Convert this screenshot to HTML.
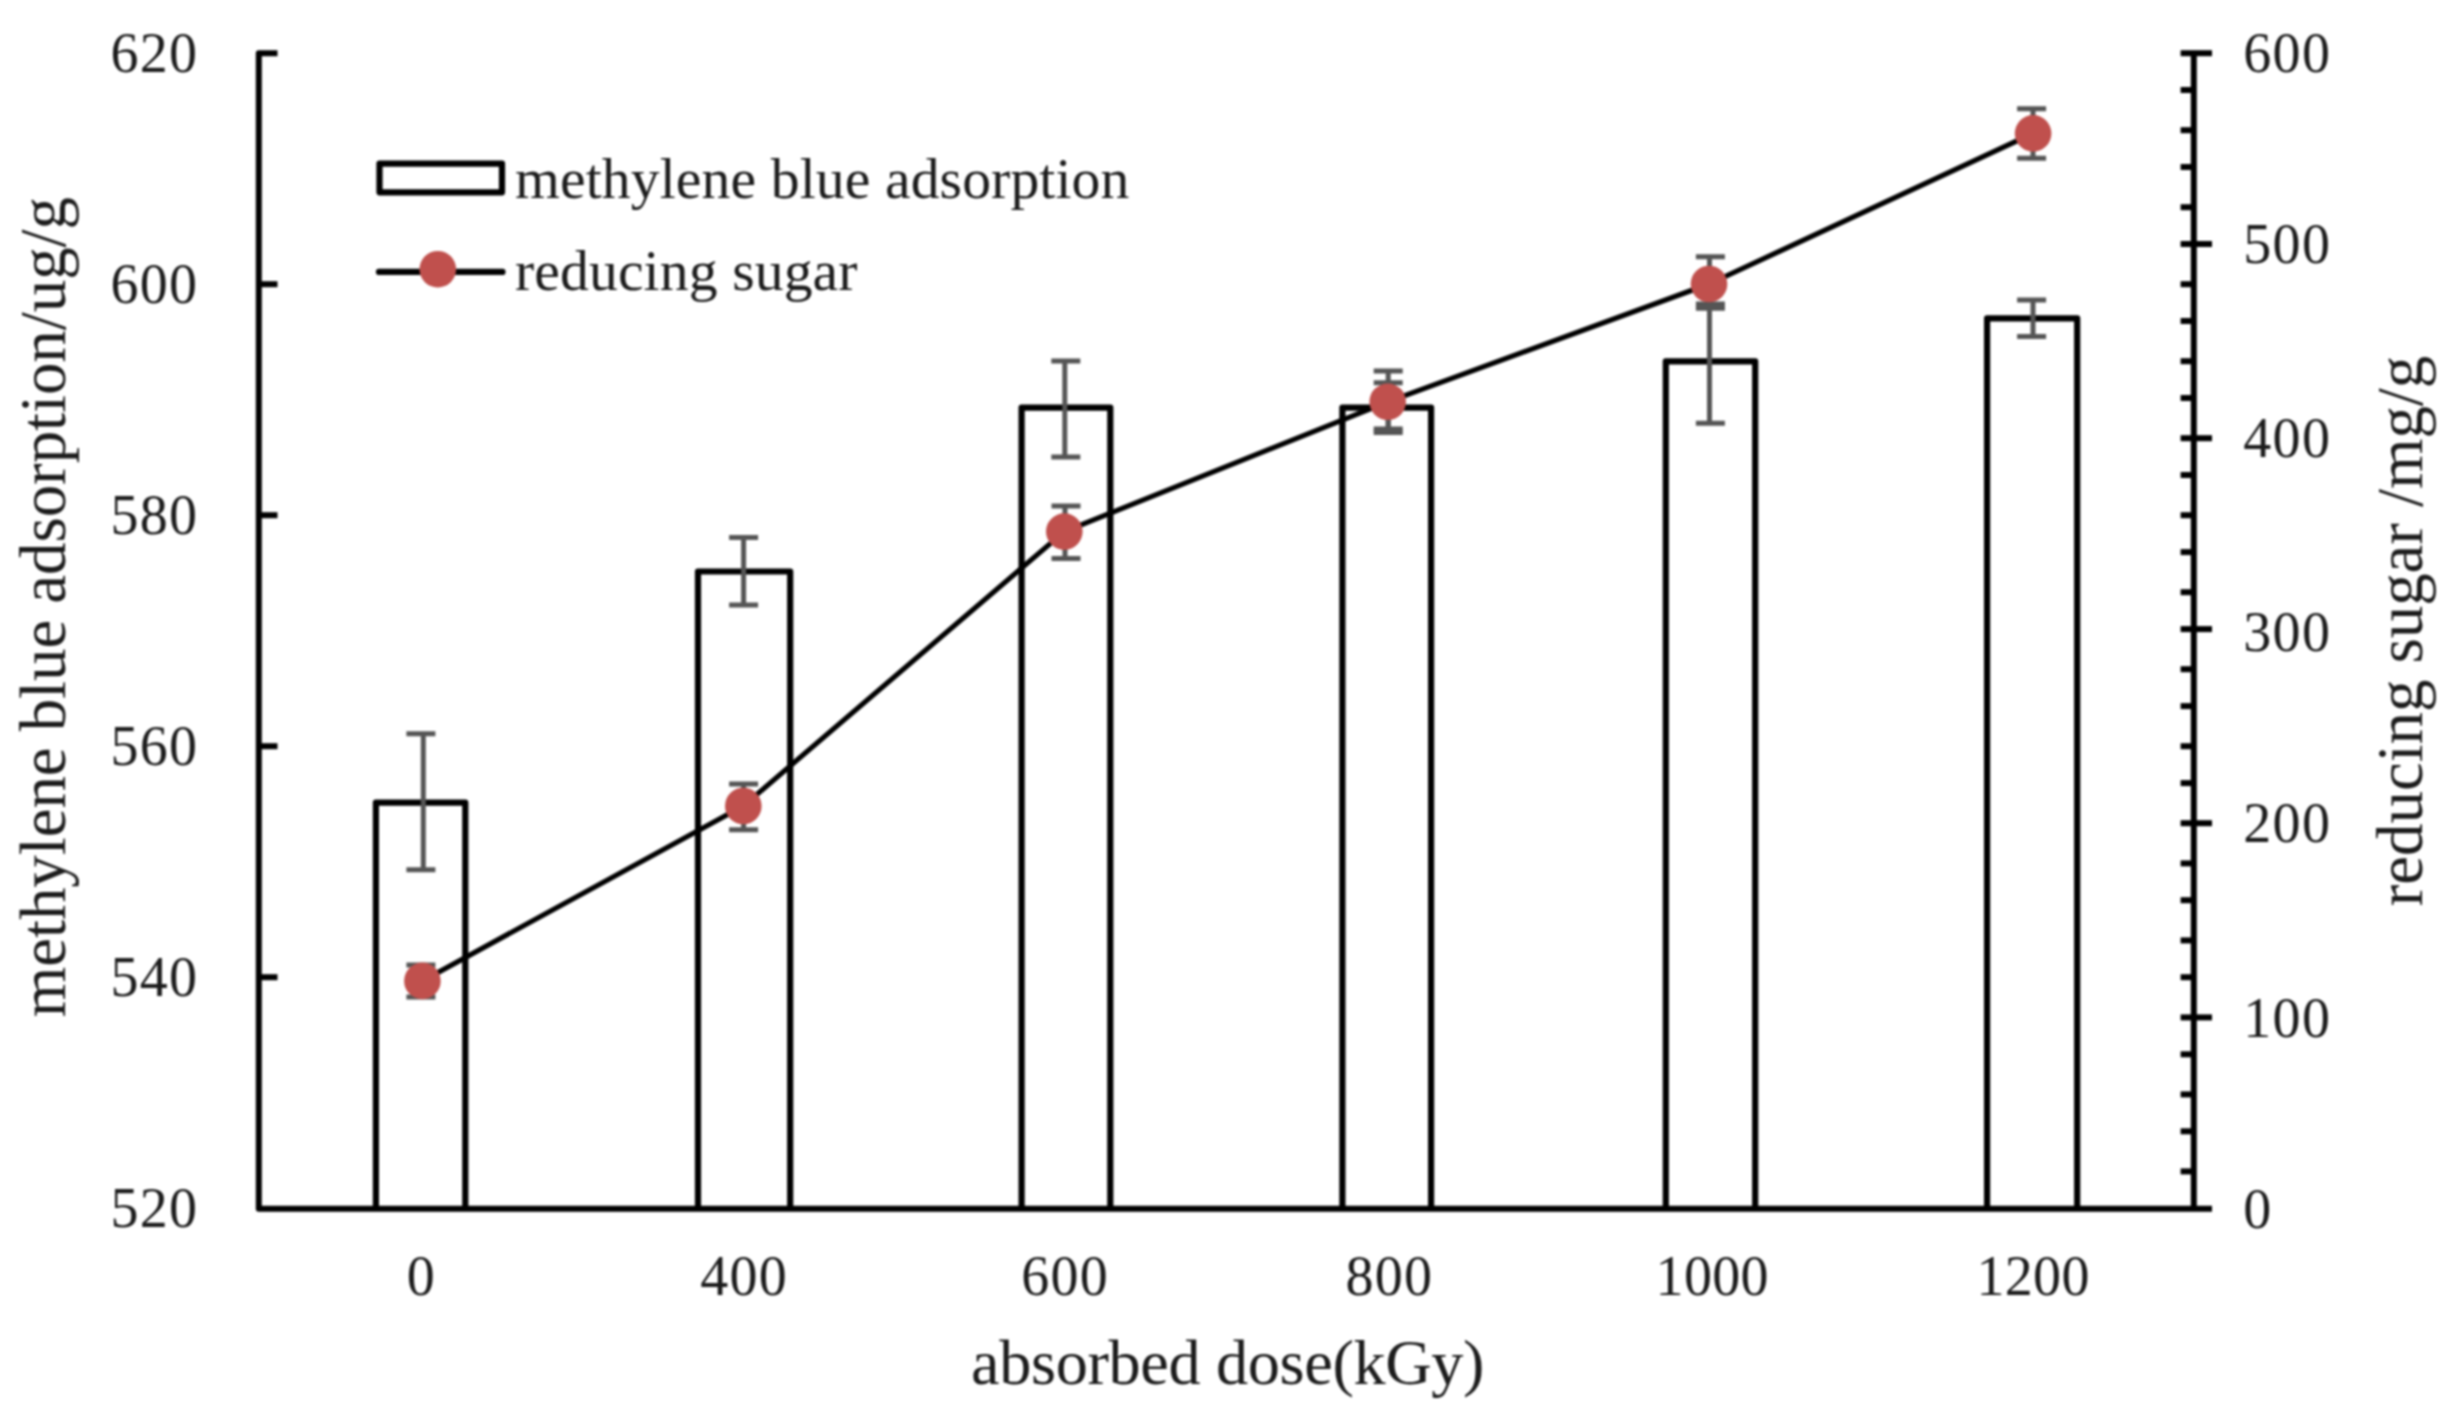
<!DOCTYPE html>
<html lang="en"><head><meta charset="utf-8"><title>methylene blue adsorption and reducing sugar vs absorbed dose</title>
<style>
html,body{margin:0;padding:0;background:#fff;}
body{width:2451px;height:1416px;overflow:hidden;}
svg{display:block;filter:blur(0.8px);}
text{font-family:"Liberation Serif","Times New Roman",serif;fill:#1c1c1c;}
.tk{font-size:56.0px;letter-spacing:1.3px;}
.lg{font-size:57.7px;letter-spacing:0.1px;}
.tt{font-size:65px;letter-spacing:-0.1px;}
.tx{font-size:64.3px;letter-spacing:-0.36px;}
.t4{font-size:56.0px;letter-spacing:0.3px;}
</style></head><body>
<svg width="2451" height="1416" viewBox="0 0 2451 1416">
<rect width="2451" height="1416" fill="#ffffff"/>
<g fill="#fff" stroke="#000" stroke-width="6.2" stroke-linejoin="round">
<path d="M375.9 1208.3V802.6H465.3V1208.3"/>
<path d="M698.0 1208.3V571.5H790.2V1208.3"/>
<path d="M1021.6 1208.3V407.6H1110.3V1208.3"/>
<path d="M1342.4 1208.3V407.6H1431.1V1208.3"/>
<path d="M1665.8 1208.3V361.3H1755.2V1208.3"/>
<path d="M1987.1 1208.3V318.3H2077.2V1208.3"/>
</g>
<g>
<path d="M423.3 733.8V869.7M406.4 733.8H435.4M406.4 869.7H435.4" stroke="#555555" stroke-width="5.0" fill="none"/>
<path d="M743.6 537.5V605.1M729.1 537.5H758.1M729.1 605.1H758.1" stroke="#555555" stroke-width="5.0" fill="none"/>
<path d="M1064.8 361V457M1051.3 361H1080.3M1051.3 457H1080.3" stroke="#555555" stroke-width="5.0" fill="none"/>
<path d="M1388.2 382.7V429.0M1373.7 382.7H1402.7M1373.7 429.0H1402.7" stroke="#555555" stroke-width="5.0" fill="none"/>
<path d="M1709.5 303.9V423.2M1695.9 303.9H1724.9M1695.9 423.2H1724.9" stroke="#555555" stroke-width="5.0" fill="none"/>
<path d="M2033 300V336.5M2017.1 300H2046.1M2017.1 336.5H2046.1" stroke="#555555" stroke-width="5.0" fill="none"/>
</g>
<g stroke="#000" stroke-width="6.0" fill="none" stroke-linejoin="round">
<path d="M277.5 53.2H258.8V1208.8H2212"/>
<path d="M2193.8 53.2V1208.3"/>
<path d="M258.8 284.2H277.5"/>
<path d="M258.8 515.2H277.5"/>
<path d="M258.8 746.2H277.5"/>
<path d="M258.8 977.2H277.5"/>
<path d="M2180.6 53.2H2212"/>
<path d="M2180.6 90.0H2193.8"/>
<path d="M2180.6 130.2H2193.8"/>
<path d="M2180.6 167.0H2193.8"/>
<path d="M2180.6 207.2H2193.8"/>
<path d="M2180.6 244.0H2212"/>
<path d="M2180.6 284.2H2193.8"/>
<path d="M2180.6 321.0H2193.8"/>
<path d="M2180.6 361.2H2193.8"/>
<path d="M2180.6 398.0H2193.8"/>
<path d="M2180.6 438.2H2212"/>
<path d="M2180.6 475.0H2193.8"/>
<path d="M2180.6 515.2H2193.8"/>
<path d="M2180.6 552.1H2193.8"/>
<path d="M2180.6 592.2H2193.8"/>
<path d="M2180.6 629.1H2212"/>
<path d="M2180.6 669.2H2193.8"/>
<path d="M2180.6 706.1H2193.8"/>
<path d="M2180.6 746.2H2193.8"/>
<path d="M2180.6 783.1H2193.8"/>
<path d="M2180.6 823.2H2212"/>
<path d="M2180.6 863.4H2193.8"/>
<path d="M2180.6 900.2H2193.8"/>
<path d="M2180.6 940.4H2193.8"/>
<path d="M2180.6 977.2H2193.8"/>
<path d="M2180.6 1017.4H2212"/>
<path d="M2180.6 1054.3H2193.8"/>
<path d="M2180.6 1094.4H2193.8"/>
<path d="M2180.6 1131.3H2193.8"/>
<path d="M2180.6 1171.4H2193.8"/>
</g>
<path d="M422.4 980.9 L743.3 806 L1064.3 531.6 L1387.7 401.8 L1709 284 L2033.1 133.4" stroke="#000" stroke-width="5.1" fill="none" stroke-linejoin="round" stroke-linecap="round"/>
<g>
<path d="M423.3 965V997M406.4 965H435.4M406.4 997H435.4" stroke="#555555" stroke-width="5.0" fill="none"/>
<path d="M743.6 783.9V829.8M729.1 783.9H758.1M729.1 829.8H758.1" stroke="#555555" stroke-width="5.0" fill="none"/>
<path d="M1065 506V558.4M1051.5 506H1080.5M1051.5 558.4H1080.5" stroke="#555555" stroke-width="5.0" fill="none"/>
<path d="M1388.2 371V432.6M1373.7 371H1402.7M1373.7 432.6H1402.7" stroke="#555555" stroke-width="5.0" fill="none"/>
<path d="M1709.5 256.7V308.3M1695.9 256.7H1724.9M1695.9 308.3H1724.9" stroke="#555555" stroke-width="5.0" fill="none"/>
<path d="M2033 108.7V158.2M2017.1 108.7H2046.1M2017.1 158.2H2046.1" stroke="#555555" stroke-width="5.0" fill="none"/>
</g>
<circle cx="422.4" cy="980.9" r="18.3" fill="#C0504D"/>
<circle cx="743.3" cy="806" r="18.3" fill="#C0504D"/>
<circle cx="1064.3" cy="531.6" r="18.3" fill="#C0504D"/>
<circle cx="1387.7" cy="401.8" r="18.3" fill="#C0504D"/>
<circle cx="1709" cy="284" r="18.3" fill="#C0504D"/>
<circle cx="2033.1" cy="133.4" r="18.3" fill="#C0504D"/>
<rect x="379.5" y="163.6" width="122.5" height="28.7" fill="#fff" stroke="#000" stroke-width="6.2" stroke-linejoin="round"/>
<path d="M379 271.9H502.5" stroke="#000" stroke-width="6.2" stroke-linecap="round"/>
<circle cx="437.8" cy="269.2" r="18.3" fill="#C0504D"/>
<text class="lg" x="515" y="198">methylene blue adsorption</text>
<text class="lg" x="515" y="290.3">reducing sugar</text>
<text class="tk" x="198.3" y="71.8" text-anchor="end">620</text>
<text class="tk" x="198.3" y="302.8" text-anchor="end">600</text>
<text class="tk" x="198.3" y="533.8" text-anchor="end">580</text>
<text class="tk" x="198.3" y="764.8" text-anchor="end">560</text>
<text class="tk" x="198.3" y="995.8" text-anchor="end">540</text>
<text class="tk" x="198.3" y="1226.9" text-anchor="end">520</text>
<text class="tk" x="2243.3" y="72.2">600</text>
<text class="tk" x="2243.3" y="262.8">500</text>
<text class="tk" x="2243.3" y="456.8">400</text>
<text class="tk" x="2243.3" y="650.9">300</text>
<text class="tk" x="2243.3" y="842.1">200</text>
<text class="tk" x="2243.3" y="1037.0">100</text>
<text class="tk" x="2243.3" y="1227.5">0</text>
<text class="tk" x="421.5" y="1295.3" text-anchor="middle">0</text>
<text class="tk" x="744.2" y="1295.3" text-anchor="middle">400</text>
<text class="tk" x="1065.2" y="1295.3" text-anchor="middle">600</text>
<text class="tk" x="1389.4" y="1295.3" text-anchor="middle">800</text>
<text class="t4" x="1712.2" y="1295.3" text-anchor="middle">1000</text>
<text class="t4" x="2033.1" y="1295.3" text-anchor="middle">1200</text>
<text class="tx" x="1227.6" y="1384" text-anchor="middle">absorbed dose(kGy)</text>
<text class="tt" transform="translate(64.5 607.2) rotate(-90)" text-anchor="middle">methylene blue adsorption/ug/g</text>
<text class="tt" transform="translate(2422 631) rotate(-90)" text-anchor="middle">reducing sugar /mg/g</text>
</svg></body></html>
